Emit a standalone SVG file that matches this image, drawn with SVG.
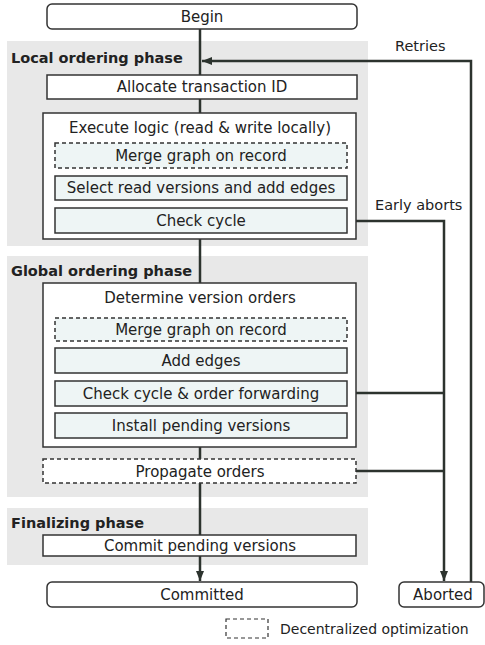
<svg xmlns="http://www.w3.org/2000/svg" width="485" height="645" viewBox="0 0 485 645">
<style>
.bg{fill:#e8e8e8}
.box{fill:#fff;stroke:#333;stroke-width:1.5}
.inner{fill:#eef5f5;stroke:#333;stroke-width:1.5}
.dash{stroke-dasharray:4,3}
.t{font-family:"DejaVu Sans",Verdana,sans-serif;font-size:15px;fill:#222;text-anchor:middle}
.h{font-family:"DejaVu Sans",Verdana,sans-serif;font-size:14.5px;font-weight:bold;fill:#222}
.l{font-family:"DejaVu Sans",Verdana,sans-serif;font-size:14.5px;fill:#222}
.c{fill:none;stroke:#2c332e;stroke-width:2.5}
</style>
<defs>
<marker id="ah" markerWidth="10" markerHeight="10" viewBox="0 0 10 10" refX="10" refY="5" orient="auto" markerUnits="userSpaceOnUse">
<path d="M0,1 L10,5 L0,9 Z" fill="#2c332e"/>
</marker>
</defs>
<rect class="bg" x="7" y="41" width="361" height="205"/>
<rect class="bg" x="7" y="256" width="361" height="241"/>
<rect class="bg" x="7" y="508" width="361" height="57"/>
<text class="h" x="11" y="63">Local ordering phase</text>
<text class="h" x="11" y="276">Global ordering phase</text>
<text class="h" x="11" y="528">Finalizing phase</text>
<g id="connectors">
<path class="c" d="M200,29 V75"/>
<path class="c" d="M200,99 V113"/>
<path class="c" d="M200,239 V283"/>
<path class="c" d="M200,447 V459"/>
<path class="c" d="M200,483 V535"/>
<path class="c" d="M200,556 V581" marker-end="url(#ah)"/>
<path class="c" d="M471,582 V61 H202" marker-end="url(#ah)"/>
<path class="c" d="M347,221 H444 V581" marker-end="url(#ah)"/>
<path class="c" d="M347,393 H444"/>
<path class="c" d="M356,471 H444"/>
<text class="l" x="395" y="51">Retries</text>
<text class="l" x="375" y="210">Early aborts</text>
</g>
<g id="begin"><rect class="box" x="47" y="4" width="310" height="25" rx="5"/><text class="t" x="202" y="22">Begin</text></g>
<g id="allocate"><rect class="box" x="47" y="75" width="310" height="24"/><text class="t" x="202" y="92">Allocate transaction ID</text></g>
<g id="execute"><rect class="box" x="43" y="113" width="313" height="126"/><text class="t" x="200" y="133">Execute logic (read &amp; write locally)</text></g>
<g id="merge1"><rect class="inner dash" x="55" y="143" width="292" height="25"/><text class="t" x="201" y="161">Merge graph on record</text></g>
<g id="select"><rect class="inner" x="55" y="176" width="292" height="24"/><text class="t" x="201" y="193">Select read versions and add edges</text></g>
<g id="check1"><rect class="inner" x="55" y="208" width="292" height="25"/><text class="t" x="201" y="226">Check cycle</text></g>
<g id="determine"><rect class="box" x="43" y="283" width="313" height="164"/><text class="t" x="200" y="303">Determine version orders</text></g>
<g id="merge2"><rect class="inner dash" x="55" y="318" width="292" height="23"/><text class="t" x="201" y="335">Merge graph on record</text></g>
<g id="addedges"><rect class="inner" x="55" y="348" width="292" height="25"/><text class="t" x="201" y="366">Add edges</text></g>
<g id="check2"><rect class="inner" x="55" y="381" width="292" height="25"/><text class="t" x="201" y="399">Check cycle &amp; order forwarding</text></g>
<g id="install"><rect class="inner" x="55" y="413" width="292" height="25"/><text class="t" x="201" y="431">Install pending versions</text></g>
<g id="propagate"><rect class="box dash" x="43" y="459" width="313" height="24"/><text class="t" x="200" y="477">Propagate orders</text></g>
<g id="commit"><rect class="box" x="43" y="535" width="313" height="21"/><text class="t" x="200" y="551">Commit pending versions</text></g>
<g id="committed"><rect class="box" x="47" y="582" width="310" height="25" rx="5"/><text class="t" x="202" y="600">Committed</text></g>
<g id="aborted"><rect class="box" x="399" y="582" width="85" height="25" rx="5"/><text class="t" x="443" y="600">Aborted</text></g>
<g id="legend"><rect class="box dash" x="226" y="619" width="42" height="19" style="stroke-width:1.2"/><text class="l" x="280" y="634" style="font-size:14px">Decentralized optimization</text></g>
</svg>
